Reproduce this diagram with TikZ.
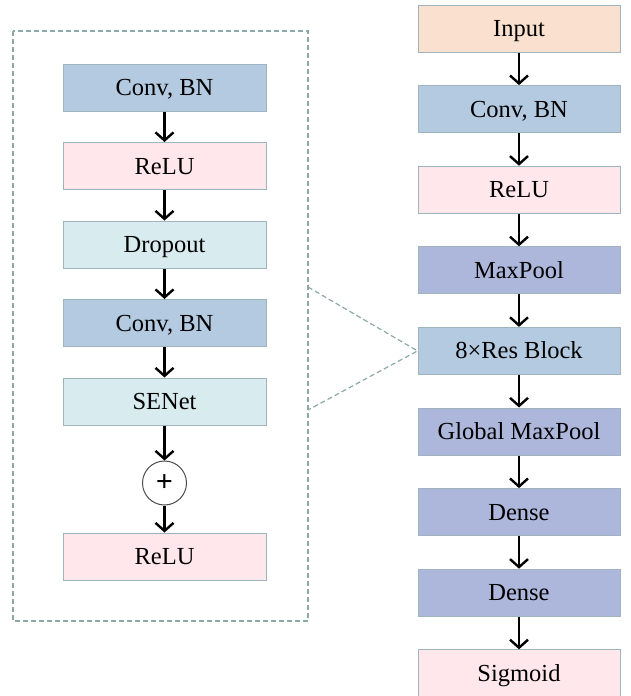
\documentclass[tikz,border=0pt]{standalone}
\usepackage{fontspec}
\setmainfont{Liberation Serif}
\usetikzlibrary{arrows.meta}
\usetikzlibrary{positioning}

\definecolor{convblue}{RGB}{180,202,224}
\definecolor{relupink}{RGB}{255,231,235}
\definecolor{dropcyan}{RGB}{216,235,239}
\definecolor{poolblue}{RGB}{173,182,219}
\definecolor{inpeach}{RGB}{250,225,207}
\definecolor{edgegray}{RGB}{160,180,190}
\definecolor{dashgray}{RGB}{140,168,168}

\tikzset{
 block/.style={draw=edgegray, line width=1pt, minimum width=203, minimum height=47,
   inner sep=0, text height=16, text depth=0, font=\fontsize{24.5}{28}\selectfont},
 flow/.style={black, line width=2.4pt, -{Straight Barb[length=8,width=18,line width=2.4pt]}},
 zoomline/.style={dashgray, line width=1.2pt, dash pattern=on 5pt off 3pt}
}

\begin{document}
\begin{tikzpicture} [x=1pt, y=-1pt]
\useasboundingbox (0,0) rectangle (631,696);
% residual block (left)
\draw[zoomline] (13,31) rectangle (308,621);
\foreach \n/\txt/\col [count=\i from 0] in {lconv/{Conv, BN}/convblue, lrelu/ReLU/relupink, ldrop/Dropout/dropcyan, lconvb/{Conv, BN}/convblue, lse/SENet/dropcyan} {
 \node[block, fill=\col] (\n) at (164.5, 87.5+78.5*\i) {\txt};
}
\node[draw=black!70, line width=1pt, circle, minimum size=44, inner sep=0, font=\fontsize{30}{30}\selectfont\bfseries] (ladd) at (164.5,483) {+};
\node[block, fill=relupink] (lout) at (164.5,556.5) {ReLU};
\foreach \a/\b in {lconv/lrelu, lrelu/ldrop, ldrop/lconvb, lconvb/lse, lse/ladd, ladd/lout} {
 \draw[flow] (\a) -- (\b);
}
% main network (right)
\foreach \n/\txt/\col [count=\i from 0] in {rin/Input/inpeach, rconv/{Conv, BN}/convblue, rrelu/ReLU/relupink, rpool/MaxPool/poolblue, rres/8×Res Block/convblue, rgpool/Global MaxPool/poolblue, rdense/Dense/poolblue, rdenseb/Dense/poolblue, rsig/Sigmoid/relupink} {
 \node[block, minimum width=202, fill=\col] (\n) at (519, 28.5+80.6*\i) {\txt};
}
\foreach \a/\b in {rin/rconv, rconv/rrelu, rrelu/rpool, rpool/rres, rres/rgpool, rgpool/rdense, rdense/rdenseb, rdenseb/rsig} {
 \draw[flow] (\a) -- (\b);
}
% zoom lines
\coordinate (zt) at (308,287);
\coordinate (zb) at (308,410);
\draw[zoomline] (zt) -- (rres.west) -- (zb);
\end{tikzpicture}
\end{document}
